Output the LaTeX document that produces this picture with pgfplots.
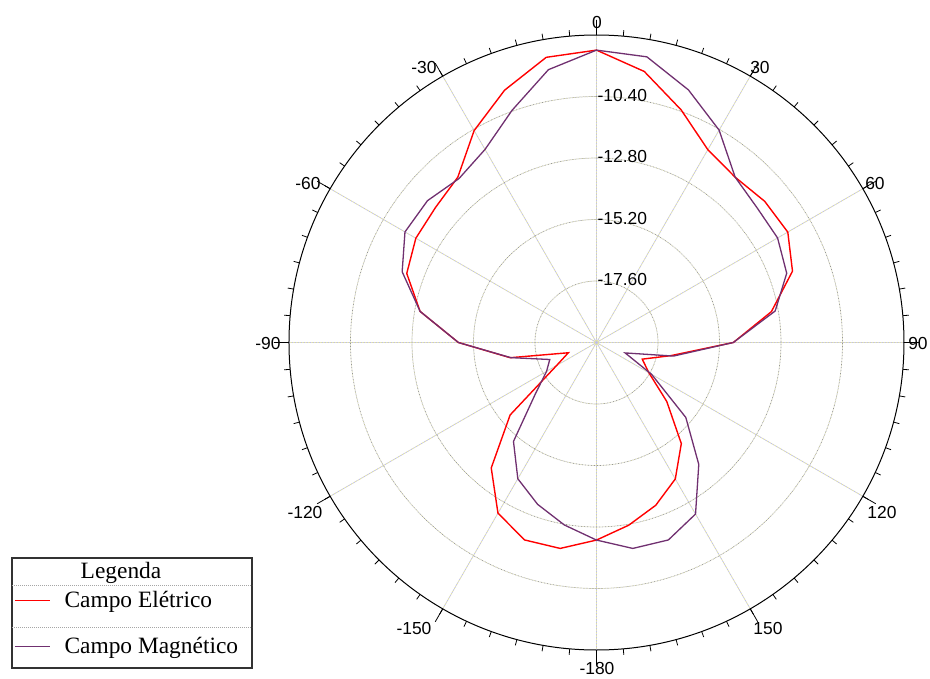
\documentclass[border=0pt]{standalone}
\usepackage{fontspec}
\setmainfont{Liberation Serif}
\setsansfont{Liberation Sans}
\usepackage{pgfplots}
\pgfplotsset{compat=1.18}
\usepgfplotslibrary{polar}
\usepackage{pgfplotstable}

\definecolor{efield}{RGB}{255,0,0}
\definecolor{hfield}{RGB}{112,48,112}
\definecolor{spokeA}{RGB}{190,190,235}
\definecolor{spokeB}{RGB}{222,222,165}
\definecolor{ringA}{RGB}{150,150,150}
\definecolor{ringB}{RGB}{200,200,160}
\definecolor{legframe}{RGB}{50,50,50}

% angle label placed with an offset (dx, baseline dy) from its tick on the rim
\newcommand\TL[3]{\smash{\rlap{\hspace*{#1}\raisebox{#2}{\makebox[0pt][c]{#3}}}}}

% compass angle t (0 = top, clockwise), level in dB
\pgfplotstableread{
t db
-180 -12.29
-170 -11.84
-160 -11.80
-150 -12.31
-140 -13.61
-130 -15.60
-120 -18.20
-110 -18.83
-100 -16.58
-90 -14.61
-80 -13.01
-70 -12.12
-60 -11.86
-50 -11.80
-40 -11.58
-30 -10.45
-20 -9.52
-10 -8.70
0 -8.59
10 -9.26
20 -10.34
30 -11.31
40 -11.58
50 -11.43
60 -11.38
70 -11.86
80 -13.07
90 -14.66
100 -17.05
110 -18.10
120 -17.64
130 -16.42
140 -14.85
150 -13.85
160 -13.24
170 -12.76
180 -12.29
}\tabE

\pgfplotstableread{
t db
-180 -12.29
-170 -12.77
-160 -13.28
-150 -13.86
-140 -14.96
-130 -16.89
-120 -17.75
-110 -18.06
-100 -16.60
-90 -14.61
-80 -13.01
-70 -11.93
-60 -11.37
-50 -11.39
-40 -11.65
-30 -11.30
-20 -10.36
-10 -9.19
0 -8.59
10 -8.68
20 -9.51
30 -10.43
40 -11.58
50 -11.82
60 -11.84
70 -12.10
80 -12.92
90 -14.66
100 -16.95
110 -18.81
120 -17.52
130 -15.45
140 -13.79
150 -12.27
160 -11.80
170 -11.84
180 -12.29
}\tabH

\begin{document}
\begin{tikzpicture}
\useasboundingbox (-289bp,-29bp) rectangle (641bp,650bp);
\begin{polaraxis}[
  at={(0,0)}, anchor=south west,
  scale only axis, width=615bp, height=615bp,
  xmin=90, xmax=450, ymin=0, ymax=12,
  xtick={90,120,...,420},
  xticklabels={
    {\TL{0.5bp}{6.7bp}{0}},
    {\TL{-18.75bp}{2.9bp}{-30}},
    {\TL{-22.2bp}{-0.55bp}{-60}},
    {\TL{-21bp}{-6.8bp}{-90}},
    {\TL{-25.2bp}{-22.05bp}{-120}},
    {\TL{-28.75bp}{-25.5bp}{-150}},
    {\TL{0.5bp}{-24.3bp}{-180}},
    {\TL{17.75bp}{-25.5bp}{150}},
    {\TL{19.2bp}{-22.05bp}{120}},
    {\TL{14bp}{-6.8bp}{90}},
    {\TL{12.2bp}{-0.55bp}{60}},
    {\TL{9.75bp}{2.9bp}{30}}},
  minor xtick={90,95,...,445},
  ytick={2.4,4.8,7.2,9.6},
  yticklabels={-17.60,-15.20,-12.80,-10.40},
  tick align=inside,
  major tick length=15bp,
  minor tick length=6bp,
  tick style={black, line width=0.8bp},
  ytick style={draw=none},
  axis line style={black, line width=1bp},
  y axis line style={draw=none},
  xmajorgrids, ymajorgrids,
  x grid style={spokeA, line width=0.8bp, dash pattern=on 1.5bp off 1.5bp,
    postaction={draw, spokeB, line width=0.8bp, dash pattern=on 1.5bp off 1.5bp, dash phase=1.5bp}},
  y grid style={ringA, line width=0.7bp, dash pattern=on 1bp off 2bp,
    postaction={draw, ringB, line width=0.7bp, dash pattern=on 1bp off 2bp, dash phase=1.5bp}},
  /pgf/number format/assume math mode=true,
  ticklabel style={font=\sffamily\fontsize{17.5}{20}\selectfont},
  xticklabel style={anchor=center, inner sep=0pt, outer sep=0pt},
  yticklabel style={anchor=west, xshift=0bp, yshift=1.5bp, inner sep=1bp},
  legend style={at={(axis description cs:-0.4472,0.0431)}, anchor=west,
    draw=none, fill=none, inner sep=0pt, row sep=28bp, column sep=14bp,
    font=\rmfamily\fontsize{23.5}{28}\selectfont,
    nodes={inner sep=0pt}},
  legend cell align=left,
  legend image code/.code={\draw[#1] (0bp,0bp) -- (35bp,0bp);},
]
\addplot[efield, line width=1.4bp] table[x expr={90-(\thisrow{t})}, y expr={\thisrow{db}+20}] {\tabE};
\addlegendentry{Campo Elétrico}
\addplot[hfield, line width=1.3bp] table[x expr={90-(\thisrow{t})}, y expr={\thisrow{db}+20}] {\tabH};
\addlegendentry{Campo Magnético}
\end{polaraxis}
% legend frame, header and separators
\draw[legframe, line width=1.2bp] (-277bp,92bp) rectangle (-37bp,-18bp);
\draw[gray!70, line width=0.8bp, dash pattern=on 1bp off 1bp] (-277bp,65bp) -- (-37bp,65bp);
\draw[gray!70, line width=0.8bp, dash pattern=on 1bp off 1bp] (-277bp,23bp) -- (-37bp,23bp);
\node[font=\rmfamily\fontsize{23.5}{28}\selectfont, inner sep=0pt] at (-168bp,77bp) {Legenda};
\end{tikzpicture}
\end{document}
